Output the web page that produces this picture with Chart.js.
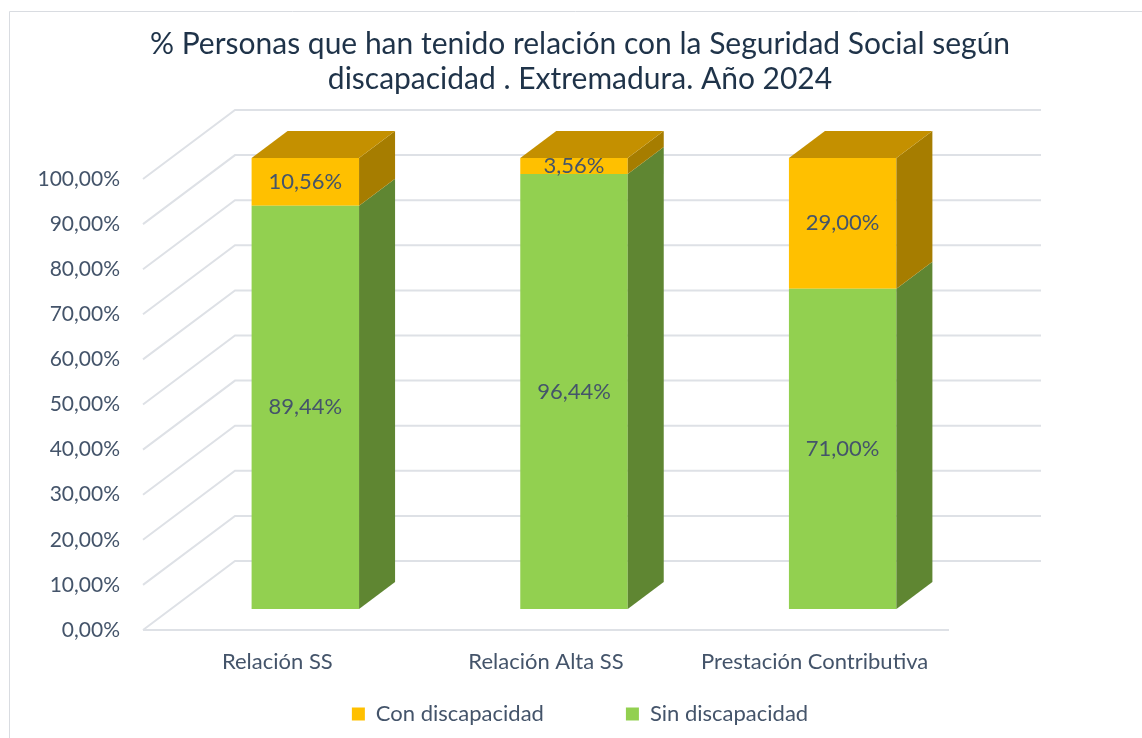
<!DOCTYPE html>
<html>
<head>
<meta charset="utf-8">
<script src="https://cdn.jsdelivr.net/npm/chart.js@4"></script>
<style>
  html, body { margin: 0; padding: 0; background: #fff; }
</style>
</head>
<body>
<canvas id="myChart" width="1142" height="738"></canvas>
<script>
// data
const categories = ['Relación SS', 'Relación Alta SS', 'Prestación Contributiva'];
const sinDiscapacidad = [89.44, 96.44, 71.00];
const conDiscapacidad = [10.56, 3.56, 29.00];
const seriesNames = ['Sin discapacidad', 'Con discapacidad'];

const textColor = '#44546A';
const gridColor = '#DEE1E6';

// 3d offsets, relative to the plane of the bar front faces
const front = { dx: -28, dy: 21 };
const back = { dx: 64, dy: -48 };
const depth = { dx: 36, dy: -27 };

const shade = {
    'Sin discapacidad': { side: '#5F8632', top: '#76A83E' },
    'Con discapacidad': { side: '#A67D00', top: '#C49000' }
};

function pct(v) {
    return v.toFixed(2).replace('.', ',') + '%';
}

const frame = {
    id: 'frame',
    beforeDraw(chart) {
        const ctx = chart.ctx;
        ctx.save();
        ctx.strokeStyle = '#D9DCE1';
        ctx.lineWidth = 1;
        ctx.beginPath();
        ctx.moveTo(9.5, chart.height);
        ctx.lineTo(9.5, 11.5);
        ctx.lineTo(chart.width, 11.5);
        ctx.stroke();
        ctx.restore();
    }
};

const walls = {
    id: 'walls',
    beforeDatasetsDraw(chart) {
        const ctx = chart.ctx;
        const y = chart.scales.y;
        const x = chart.scales.x;
        const area = chart.chartArea;
        ctx.save();
        ctx.strokeStyle = gridColor;
        ctx.lineWidth = 2;
        y.ticks.forEach(t => {
            const py = y.getPixelForValue(t.value);
            ctx.beginPath();
            ctx.moveTo(area.left + front.dx, py + front.dy);
            ctx.lineTo(area.left + back.dx, py + back.dy);
            ctx.lineTo(area.right + back.dx, py + back.dy);
            ctx.stroke();
        });
        // floor front edge
        const base = y.getPixelForValue(0);
        ctx.beginPath();
        ctx.moveTo(area.left + front.dx, base + front.dy);
        ctx.lineTo(area.right + front.dx, base + front.dy);
        ctx.stroke();

        // category names under the front edge of the floor
        ctx.font = '22px Lato';
        ctx.fillStyle = textColor;
        ctx.textAlign = 'center';
        ctx.textBaseline = 'middle';
        chart.data.labels.forEach((lab, i) => {
            ctx.fillText(lab, x.getPixelForTick(i) + front.dx, base + front.dy + 32);
        });
        ctx.restore();
    }
};

const bars3d = {
    id: 'bars3d',
    afterDatasetsDraw(chart) {
        const ctx = chart.ctx;
        const last = chart.data.datasets.length - 1;
        ctx.save();
        chart.data.datasets.forEach((ds, d) => {
            const meta = chart.getDatasetMeta(d);
            meta.data.forEach(bar => {
                const l = bar.x - bar.width / 2;
                const r = bar.x + bar.width / 2;
                ctx.fillStyle = shade[ds.label].side;
                ctx.beginPath();
                ctx.moveTo(r, bar.y);
                ctx.lineTo(r + depth.dx, bar.y + depth.dy);
                ctx.lineTo(r + depth.dx, bar.base + depth.dy);
                ctx.lineTo(r, bar.base);
                ctx.closePath();
                ctx.fill();
                if (d === last) {
                    ctx.fillStyle = shade[ds.label].top;
                    ctx.beginPath();
                    ctx.moveTo(l, bar.y);
                    ctx.lineTo(l + depth.dx, bar.y + depth.dy);
                    ctx.lineTo(r + depth.dx, bar.y + depth.dy);
                    ctx.lineTo(r, bar.y);
                    ctx.closePath();
                    ctx.fill();
                }
            });
        });
        // value labels
        ctx.font = '22px Lato';
        ctx.fillStyle = textColor;
        ctx.textAlign = 'center';
        ctx.textBaseline = 'middle';
        chart.data.datasets.forEach((ds, d) => {
            chart.getDatasetMeta(d).data.forEach((bar, i) => {
                ctx.fillText(pct(ds.data[i]), bar.x, (bar.y + bar.base) / 2);
            });
        });
        ctx.restore();
    }
};

new Chart(document.getElementById('myChart'), {
    type: 'bar',
    data: {
        labels: categories,
        datasets: [
            {
                label: seriesNames[0],
                data: sinDiscapacidad,
                backgroundColor: '#92D050',
                borderWidth: 0
            },
            {
                label: seriesNames[1],
                data: conDiscapacidad,
                backgroundColor: '#FFC000',
                borderWidth: 0
            }
        ]
    },
    options: {
        responsive: false,
        animation: false,
        devicePixelRatio: 1,
        layout: { padding: { left: 18, right: 0, top: 0, bottom: 3 } },
        datasets: {
            bar: { categoryPercentage: 1, barPercentage: 0.4 }
        },
        plugins: {
            tooltip: { enabled: false },
            title: {
                display: true,
                text: ['% Personas que han tenido relación con la Seguridad Social según',
                       'discapacidad . Extremadura. Año 2024'],
                color: '#1F3349',
                font: { family: 'Lato', size: 30, weight: 'normal', lineHeight: 1.1667 },
                padding: { top: 27, bottom: 61 }
            },
            legend: {
                position: 'bottom',
                reverse: true,
                labels: {
                    boxWidth: 13,
                    boxHeight: 13,
                    padding: 82,
                    color: textColor,
                    font: { family: 'Lato', size: 22 }
                }
            }
        },
        scales: {
            x: {
                stacked: true,
                grid: { display: false, drawTicks: false },
                border: { display: false },
                ticks: { display: false },
                afterFit(scale) { scale.height = 12; }
            },
            y: {
                stacked: true,
                min: 0,
                max: 100,
                grid: { display: false, drawTicks: false },
                border: { display: false },
                ticks: {
                    stepSize: 10,
                    color: textColor,
                    font: { family: 'Lato', size: 21 },
                    labelOffset: front.dy,
                    padding: 51,
                    callback: v => pct(v)
                },
                afterFit(scale) { scale.width = 153; }
            },
            yRight: {
                position: 'right',
                display: true,
                grid: { display: false, drawTicks: false },
                border: { display: false },
                ticks: { display: false },
                afterFit(scale) { scale.width = 165; }
            }
        }
    },
    plugins: [frame, walls, bars3d]
});
</script>
</body>
</html>
